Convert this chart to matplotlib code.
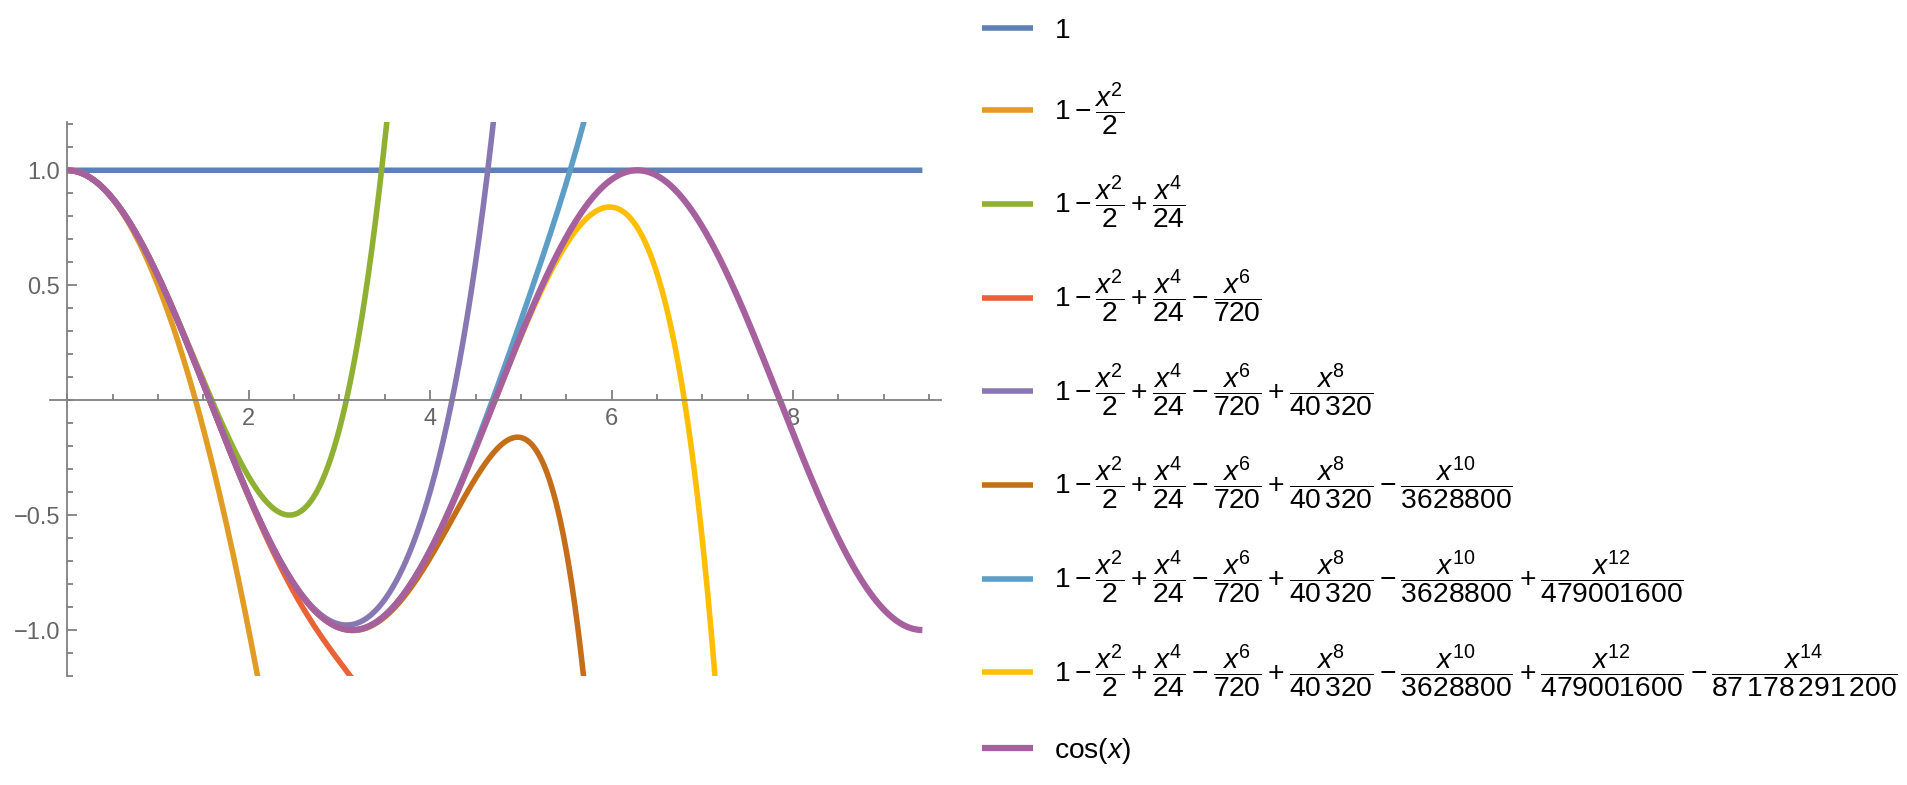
import numpy as np
import matplotlib
matplotlib.use("Agg")
import matplotlib.pyplot as plt
from matplotlib.ticker import MultipleLocator, FixedLocator, FuncFormatter

plt.rcParams['mathtext.fontset'] = 'custom'
plt.rcParams['mathtext.rm'] = 'Liberation Sans'
plt.rcParams['mathtext.it'] = 'Liberation Sans:italic'
plt.rcParams['mathtext.bf'] = 'Liberation Sans:bold'
plt.rcParams['font.family'] = ['Liberation Sans', 'DejaVu Sans']

# Taylor series of cos(x): denominators (2k)! with alternating signs
denominators = [1, 2, 24, 720, 40320, 3628800, 479001600, 87178291200]
signs = [1, -1, 1, -1, 1, -1, 1, -1]
powers = [0, 2, 4, 6, 8, 10, 12, 14]
denom_text = ['1', '2', '24', '720', r'40\,320', '3628800', '479001600',
              r'87\,178\,291\,200']

x_ticks = [2, 4, 6, 8]
y_ticks = [-1.0, -0.5, 0.5, 1.0]

colors = ['#5E81B5', '#E19C24', '#8FB032', '#EB6235', '#8778B3',
          '#C56E1A', '#5D9EC7', '#FFBF00', '#A5609D']

x = np.linspace(0, 3 * np.pi, 1500)


def term_label(k):
    op = '+' if signs[k] > 0 else '-'
    return r'%s\dfrac{x^{%d}}{%s}' % (op, powers[k], denom_text[k])


fig = plt.figure(figsize=(19.07, 7.85), dpi=100)
ax = fig.add_axes([50 / 1907, 1 - 676 / 785, 891 / 1907, 554 / 785])

handles = []
partial = np.zeros_like(x)
for k in range(len(denominators)):
    partial = partial + signs[k] * x ** powers[k] / denominators[k]
    label = '$1' + ''.join(term_label(j) for j in range(1, k + 1)) + '$'
    line, = ax.plot(x, partial, color=colors[k], lw=4, label=label,
                    solid_capstyle='butt')
    handles.append(line)

line, = ax.plot(x, np.cos(x), color=colors[8], lw=4.5, label=r'$\cos(x)$',
                solid_capstyle='butt')
handles.append(line)

ax.set_xlim(-0.19, 9.63)
ax.set_ylim(-1.2, 1.21)

axis_color = '#808080'
for side in ['top', 'right']:
    ax.spines[side].set_visible(False)
ax.spines['left'].set_position(('data', 0))
ax.spines['bottom'].set_position(('data', 0))
for side in ['left', 'bottom']:
    ax.spines[side].set_color(axis_color)
    ax.spines[side].set_linewidth(1.3)

ax.xaxis.set_major_locator(FixedLocator(x_ticks))
ax.xaxis.set_minor_locator(MultipleLocator(0.5))
ax.yaxis.set_major_locator(FixedLocator(y_ticks))
ax.yaxis.set_minor_locator(FixedLocator(np.arange(-12, 13) / 10))
ax.yaxis.set_major_formatter(
    FuncFormatter(lambda v, pos: ('%.1f' % v).replace('-', '\u2212')))

ax.tick_params(which='both', direction='in', color=axis_color, width=1.3,
               labelcolor='#666666', labelsize=17)
ax.tick_params(which='major', length=7)
ax.tick_params(which='minor', length=4)
ax.tick_params(axis='x', pad=6)
ax.tick_params(axis='y', pad=5)

fig.legend(handles=handles, loc='upper left',
           bbox_to_anchor=(982 / 1907, 1 - 18 / 785), frameon=False,
           fontsize=20.3, handlelength=1.8, handletextpad=0.75,
           labelspacing=1.3, borderaxespad=0, borderpad=0)

fig.savefig('out.png', dpi=100)
